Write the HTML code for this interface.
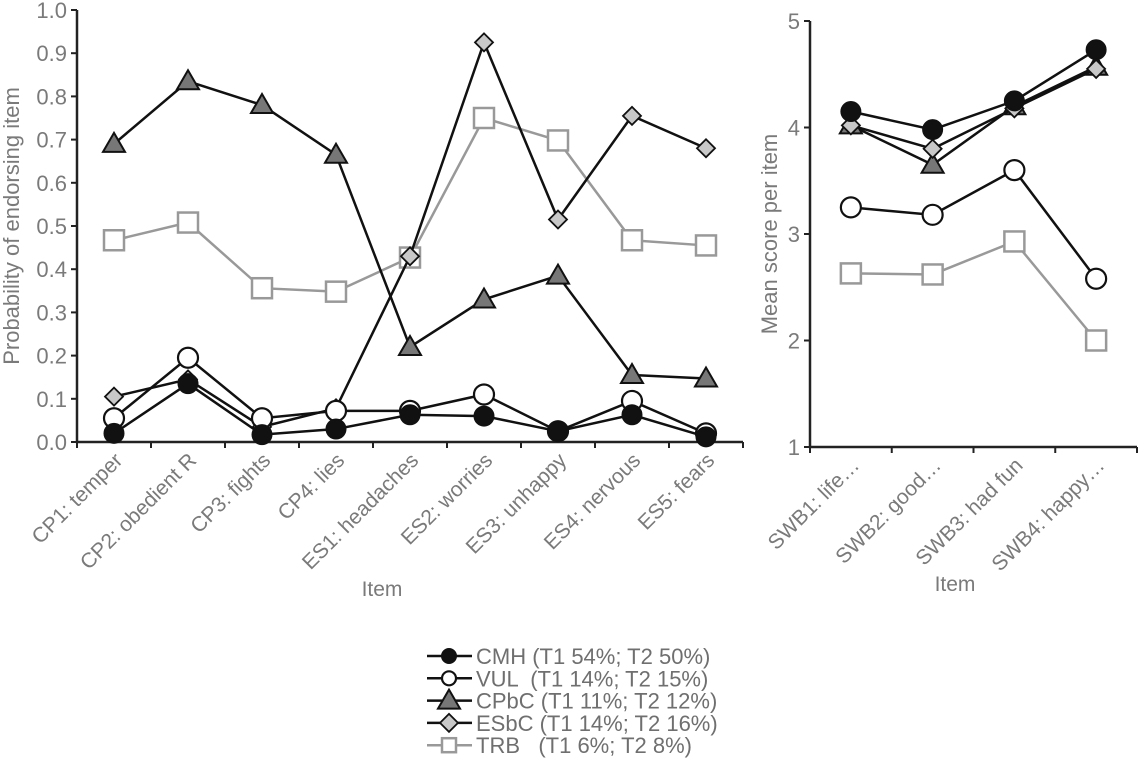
<!DOCTYPE html>
<html><head><meta charset="utf-8"><style>
body{margin:0;background:#fff;}
svg{display:block;font-family:"Liberation Sans",Arial,sans-serif;}
</style></head><body>
<svg id="chart" width="1140" height="762" viewBox="0 0 1140 762"></svg>
<script>
const leftCats=["CP1: temper","CP2: obedient R","CP3: fights","CP4: lies","ES1: headaches","ES2: worries","ES3: unhappy","ES4: nervous","ES5: fears"];
const rightCats=["SWB1: life…","SWB2: good…","SWB3: had fun","SWB4: happy…"];
const seriesNames=["CMH","VUL","CPbC","ESbC","TRB"];
const legendLabels=["CMH (T1 54%; T2 50%)","VUL  (T1 14%; T2 15%)","CPbC (T1 11%; T2 12%)","ESbC (T1 14%; T2 16%)","TRB   (T1 6%; T2 8%)"];
const leftCMH=[0.02,0.135,0.017,0.03,0.063,0.06,0.025,0.063,0.012];
const leftVUL=[0.055,0.195,0.055,0.072,0.072,0.11,0.025,0.095,0.02];
const leftCPbC=[0.69,0.835,0.78,0.665,0.22,0.33,0.385,0.155,0.147];
const leftESbC=[0.105,0.145,0.035,0.078,0.43,0.925,0.515,0.755,0.68];
const leftTRB=[0.467,0.508,0.356,0.348,0.427,0.75,0.698,0.467,0.455];
const rightCMH=[4.15,3.98,4.25,4.73];
const rightVUL=[3.25,3.18,3.6,2.58];
const rightCPbC=[4.02,3.65,4.2,4.57];
const rightESbC=[4.02,3.8,4.18,4.55];
const rightTRB=[2.63,2.62,2.93,2.0];
const leftTicks=["0.0","0.1","0.2","0.3","0.4","0.5","0.6","0.7","0.8","0.9","1.0"];
const rightTicks=["1","2","3","4","5"];

const NS="http://www.w3.org/2000/svg";
const svg=document.getElementById('chart');
function el(tag,attrs,parent,text){const e=document.createElementNS(NS,tag);for(const k in attrs)e.setAttribute(k,attrs[k]);if(text!==undefined)e.textContent=text;(parent||svg).appendChild(e);return e;}
const TC="#7a7a7a";
function marker(g,type,x,y){
  if(type==="CMH")return el('circle',{cx:x,cy:y,r:9.5,fill:'#111',stroke:'#111','stroke-width':2},g);
  if(type==="VUL")return el('circle',{cx:x,cy:y,r:10,fill:'#fff',stroke:'#111','stroke-width':2.2},g);
  if(type==="CPbC")return el('polygon',{points:`${x},${y-11} ${x+11},${y+8} ${x-11},${y+8}`,fill:'#777',stroke:'#111','stroke-width':2},g);
  if(type==="ESbC")return el('polygon',{points:`${x},${y-9} ${x+9},${y} ${x},${y+9} ${x-9},${y}`,fill:'#c8c8c8',stroke:'#111','stroke-width':1.8},g);
  return el('rect',{x:x-10,y:y-10,width:20,height:20,fill:'#fff',stroke:'#999','stroke-width':2.5},g);
}
function panel(name,x0,x1,y0,y1,vmin,vmax,ticks,cats,data,ylabel,ylabX,itemX,itemY){
  const g=el('g',{});
  
  
  const n=cats.length,w=(x1-x0)/n;
  const xs=i=>x0+w*(i+0.5);
  const ys=v=>y1-(v-vmin)/(vmax-vmin)*(y1-y0);
  const ax=el('path',{d:`M${x0},${y0} V${y1} H${x1}`,stroke:'#222','stroke-width':2.5,fill:'none'},g);
  
  ticks.forEach(t=>{const v=parseFloat(t),y=ys(v);
    el('line',{x1:x0-6,x2:x0,y1:y,y2:y,stroke:'#222','stroke-width':2},g);
    const tx=el('text',{x:x0-10,y:y+8,'text-anchor':'end','font-size':22,fill:TC},g,t);
    });
  for(let i=0;i<=n;i++)el('line',{x1:x0+w*i,x2:x0+w*i,y1:y1,y2:y1+6,stroke:'#222','stroke-width':2},g);
  cats.forEach((c,i)=>{const x=xs(i)+4,y=y1+14;
    const t=el('text',{x:x,y:y,'text-anchor':'end','font-size':21,fill:TC,transform:`rotate(-45 ${x} ${y})`,dy:8},g,c);
    });
  const yl=el('text',{x:ylabX,y:(y0+y1)/2,'text-anchor':'middle','font-size':22,fill:TC,transform:`rotate(-90 ${ylabX} ${(y0+y1)/2})`},g,ylabel);
  
  const xl=el('text',{x:itemX,y:itemY,'text-anchor':'middle','font-size':21,fill:TC},g,'Item');
  
  const order=[4,2,3,1,0];
  order.forEach(si=>{const s=seriesNames[si],vals=data[si];
    const sg=el('g',{},g);
    
    el('polyline',{points:vals.map((v,i)=>xs(i)+','+ys(v)).join(' '),fill:'none',stroke:s==="TRB"?'#999':'#111','stroke-width':2.5},sg);
    vals.forEach((v,i)=>{const m=marker(sg,s,xs(i),ys(v));
      });
  });
}
panel('left-panel',77,743,10,442,0,1,leftTicks,leftCats,[leftCMH,leftVUL,leftCPbC,leftESbC,leftTRB],'Probability of endorsing item',19,382,596);
panel('right-panel',810,1137,21,447,1,5,rightTicks,rightCats,[rightCMH,rightVUL,rightCPbC,rightESbC,rightTRB],'Mean score per item',777,955,591);
// legend
const lg=el('g',{});


seriesNames.forEach((s,i)=>{const y=656+i*22.3;
  const eg=el('g',{},lg);
  
  
  el('line',{x1:427,x2:472,y1:y,y2:y,stroke:s==="TRB"?'#999':'#111','stroke-width':2.5},eg);
  const m=marker(eg,s,449,y);
  if(s==="CMH"||s==="VUL")m.setAttribute('r',7);
  if(s==="TRB"){m.setAttribute('x',442);m.setAttribute('y',y-7);m.setAttribute('width',14);m.setAttribute('height',14);}
  el('text',{x:476,y:y+8,'font-size':22,fill:'#6f6f6f',style:'white-space:pre'},eg,legendLabels[i]);
});
</script>
</body></html>
